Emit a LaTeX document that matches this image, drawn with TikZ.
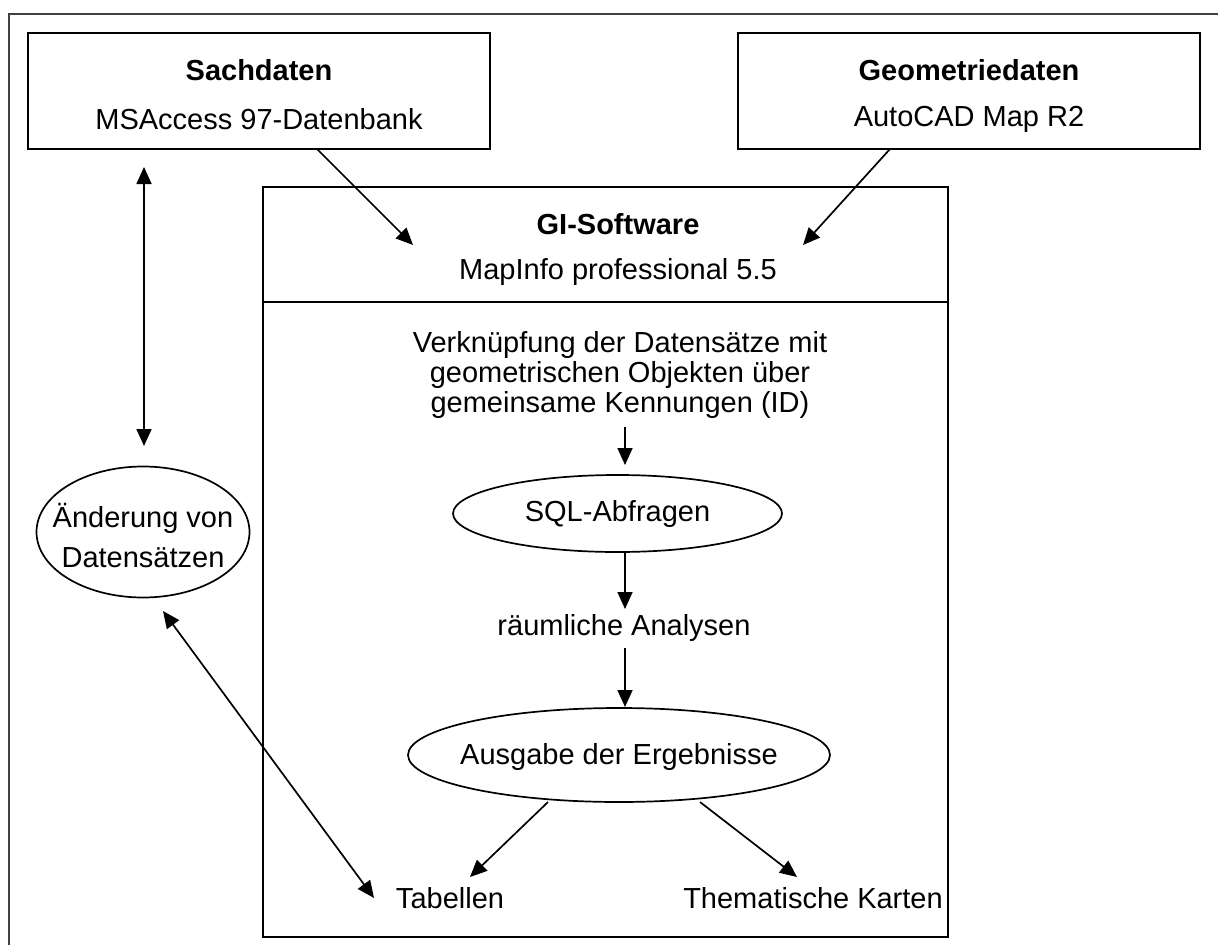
\documentclass[tikz,border=0pt]{standalone}
\usepackage{fontspec}
\setmainfont{Liberation Sans}
\usetikzlibrary{arrows.meta,shapes.geometric}
\newcommand{\fsz}{\fontsize{29}{30}\selectfont}
\begin{document}
\begin{tikzpicture}[x=1pt,y=-1pt,font=\fsz,line width=1.9pt,
  tip/.tip={Triangle[length=17pt,width=15pt]},
  arr/.style={-tip, line width=1.7pt},
  darr/.style={tip-tip, line width=1.7pt},
  boxnode/.style={draw,inner sep=0pt},
  ell/.style={draw,ellipse,inner sep=0pt,line width=1.7pt},
  txt/.style={inner sep=0pt,align=center}]
\useasboundingbox (0,0) rectangle (1218,945);
% outer frame (cropped)
\draw[line width=1.6pt,black!75] (1218,14) -- (9,14) -- (9,945);
% boxes
\node[boxnode,minimum width=462pt,minimum height=116pt] (sach) at (259,91) {};
\node[boxnode,minimum width=462pt,minimum height=116pt] (geo) at (969,91) {};
\node[boxnode,minimum width=685pt,minimum height=750pt] (gi) at (605.5,562) {};
\coordinate (divL) at (263,302);
\coordinate (divR) at (948,302);
\draw (divL) -- (divR);
% texts in boxes
\node[txt] (sachT) at (259,70) {\textbf{Sachdaten}};
\node[txt] (sachS) at (259,119) {MSAccess 97-Datenbank};
\node[txt] (geoT) at (969,70) {\textbf{Geometriedaten}};
\node[txt] (geoS) at (969,119) {AutoCAD Map R2};
\node[txt] (giT) at (618,224) {\textbf{GI-Software}};
\node[txt] (giS) at (618,272) {MapInfo professional 5.5};
% flow inside
\node[txt] (verk) at (620,375) {Verknüpfung der Datensätze mit\\geometrischen Objekten über\\gemeinsame Kennungen (ID)};
\node[ell,minimum width=329pt,minimum height=77pt] (sql) at (617.5,513.5) {};
\node[txt] (sqlT) at (617.5,513.5) {SQL-Abfragen};
\node[txt] (raum) at (624,628) {räumliche Analysen};
\node[ell,minimum width=422pt,minimum height=94pt] (aus) at (619,755) {};
\node[txt] (ausT) at (619,757) {Ausgabe der Ergebnisse};
\node[txt] (tab) at (450,898) {Tabellen};
\node[txt] (them) at (813,898) {Thematische Karten};
\node[ell,minimum width=213pt,minimum height=131pt] (aend) at (143,532) {};
\node[txt,font=\fontsize{29}{40}\selectfont] (aendT) at (143,535) {Änderung von\\Datensätzen};
% connector end points
\coordinate (s1) at (317,149);
\coordinate (e1) at (413,245);
\coordinate (s2) at (890,149);
\coordinate (e2) at (803,245);
\coordinate (s3) at (625,427);
\coordinate (e3) at (625,465);
\coordinate (s4) at (625,552);
\coordinate (e4) at (625,609);
\coordinate (s5) at (625,648);
\coordinate (e5) at (625,707);
\coordinate (s6) at (548,802);
\coordinate (e6) at (470,877);
\coordinate (s7) at (700,802);
\coordinate (e7) at (797,877);
\coordinate (d1a) at (144,167);
\coordinate (d1b) at (144,446);
\coordinate (d2a) at (163,611);
\coordinate (d2b) at (374,898);
% connectors
\draw[arr] (s1) -- (e1);
\draw[arr] (s2) -- (e2);
\draw[arr] (s3) -- (e3);
\draw[arr] (s4) -- (e4);
\draw[arr] (s5) -- (e5);
\draw[arr] (s6) -- (e6);
\draw[arr] (s7) -- (e7);
\draw[darr] (d1a) -- (d1b);
\draw[darr] (d2a) -- (d2b);
\end{tikzpicture}
\end{document}
